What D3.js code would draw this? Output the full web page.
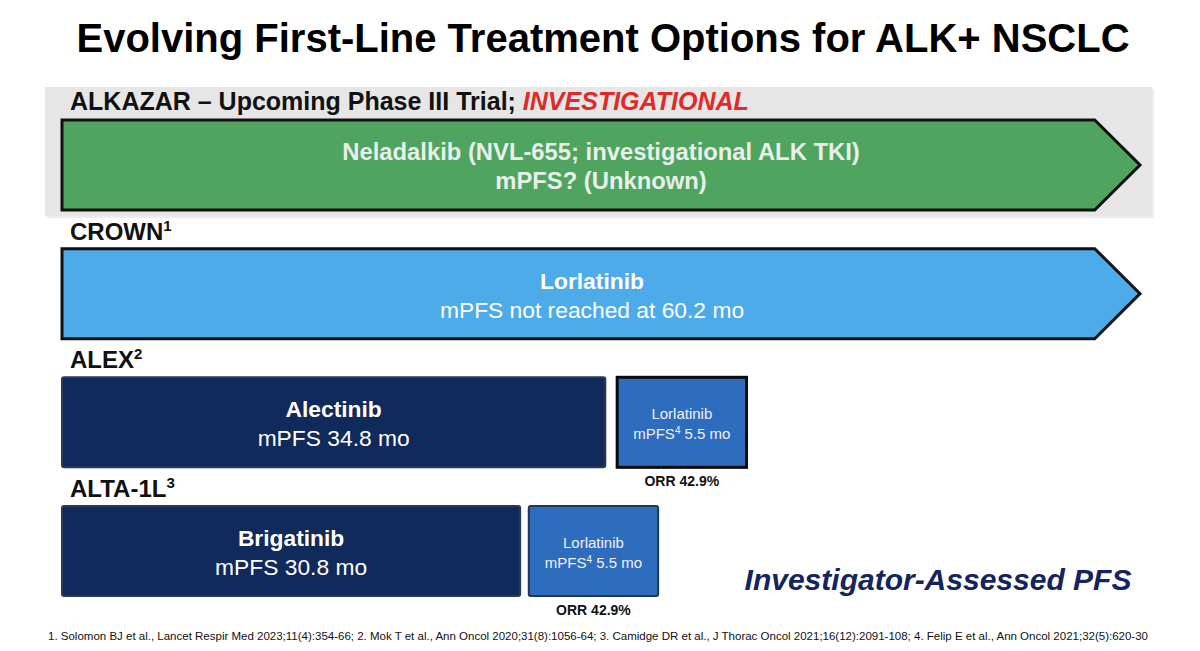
<!DOCTYPE html>
<html><head><meta charset="utf-8">
<script src="https://cdn.jsdelivr.net/npm/d3@7"></script>
<style>
html,body{margin:0;padding:0;background:#fff;}
svg{display:block;font-family:Arial,"Liberation Sans",Helvetica,sans-serif;}
</style></head>
<body>
<svg id="c" width="1200" height="651"></svg>
<script>
// ---- data (schematic timeline units 0-100) ----
const trials = ["ALKAZAR", "CROWN", "ALEX", "ALTA-1L"];
const trialSup = ["", "1", "2", "3"];
const firstDrug = ["Neladalkib (NVL-655; investigational ALK TKI)", "Lorlatinib", "Alectinib", "Brigatinib"];
const firstPFS = ["mPFS? (Unknown)", "mPFS not reached at 60.2 mo", "mPFS 34.8 mo", "mPFS 30.8 mo"];
const firstEnd = [100, 100, 50.4, 42.5];      // arrow tip / bar end
const isArrow = [true, true, false, false];
const secondStart = [null, null, 51.5, 43.3];
const secondEnd = [null, null, 63.5, 55.3];
const secondDrug = "Lorlatinib";
const secondPFS = "5.5 mo";
const secondORR = "ORR 42.9%";
const footnote = "1. Solomon BJ et al., Lancet Respir Med 2023;11(4):354-66; 2. Mok T et al., Ann Oncol 2020;31(8):1056-64; 3. Camidge DR et al., J Thorac Oncol 2021;16(12):2091-108; 4. Felip E et al., Ann Oncol 2021;32(5):620-30";

const svg = d3.select("#c");
const x = d3.scaleLinear().domain([0, 100]).range([62, 1140]);
const y = d3.scaleBand().domain(trials).range([120, 596]).paddingInner(0.3).paddingOuter(0);
const bw = y.bandwidth();
const arrowBodyEnd = 95.8;

const fill1 = {"ALKAZAR": "#4fa460", "CROWN": "#4eabe9", "ALEX": "#0f2a5b", "ALTA-1L": "#0f2a5b"};
const text1 = {"ALKAZAR": "#e9efe9", "CROWN": "#ffffff", "ALEX": "#ffffff", "ALTA-1L": "#ffffff"};

// title
svg.append("text").attr("x", 603).attr("y", 52).attr("text-anchor", "middle")
  .attr("font-size", 40).attr("font-weight", "bold").attr("fill", "#000")
  .text("Evolving First-Line Treatment Options for ALK+ NSCLC");

// gray band for ALKAZAR
svg.append("rect").attr("x", 47).attr("y", 89).attr("width", 1107).attr("height", 129)
  .attr("fill", "#ededed");
svg.append("rect").attr("x", 45).attr("y", 87).attr("width", 1107).attr("height", 129)
  .attr("fill", "#e6e6e6");

// trial labels
trials.forEach((t, i) => {
  const top = y(t);
  const tx = svg.append("text").attr("x", 70).attr("y", i === 0 ? top - 10 : top - 9)
    .attr("font-weight", "bold").attr("fill", "#111").attr("font-size", i === 0 ? 25 : 24);
  if (i === 0) {
    tx.append("tspan").text("ALKAZAR \u2013 Upcoming Phase III Trial; ");
    tx.append("tspan").attr("fill", "#e02a2a").attr("font-style", "italic").text("INVESTIGATIONAL");
  } else {
    tx.append("tspan").text(t);
    tx.append("tspan").attr("font-size", 15).attr("dy", -9).text(trialSup[i]);
  }
});

// first-line marks
trials.forEach((t, i) => {
  const top = y(t), bot = top + bw, mid = top + bw / 2;
  if (isArrow[i]) {
    const p = d3.path();
    p.moveTo(x(0), top);
    p.lineTo(x(arrowBodyEnd), top);
    p.lineTo(x(firstEnd[i]), mid);
    p.lineTo(x(arrowBodyEnd), bot);
    p.lineTo(x(0), bot);
    p.closePath();
    svg.append("path").attr("d", p.toString()).attr("fill", fill1[t])
      .attr("stroke", "#111").attr("stroke-width", 3).attr("stroke-linejoin", "miter");
  } else {
    svg.append("rect").attr("x", x(0)).attr("y", top).attr("width", x(firstEnd[i]) - x(0)).attr("height", bw)
      .attr("rx", 2).attr("fill", fill1[t]).attr("stroke", "#2b3b57").attr("stroke-width", 2);
  }
  const cx = isArrow[i] ? (i === 0 ? 601 : 592) : (x(0) + x(firstEnd[i])) / 2;
  const fs = i === 0 ? 23.8 : 22.8;
  svg.append("text").attr("x", cx).attr("y", mid - 5).attr("text-anchor", "middle")
    .attr("font-size", fs).attr("font-weight", "bold").attr("fill", text1[t]).text(firstDrug[i]);
  svg.append("text").attr("x", cx).attr("y", mid + 24).attr("text-anchor", "middle")
    .attr("font-size", fs).attr("font-weight", i === 0 ? "bold" : "normal").attr("fill", text1[t]).text(firstPFS[i]);

  if (secondStart[i] !== null) {
    const sx = x(secondStart[i]), ex = x(secondEnd[i]);
    svg.append("rect").attr("x", sx).attr("y", top).attr("width", ex - sx).attr("height", bw)
      .attr("rx", i === 2 ? 0 : 2).attr("fill", "#2e6cbd")
      .attr("stroke", i === 2 ? "#0a0a0a" : "#243650").attr("stroke-width", i === 2 ? 3 : 2);
    const scx = (sx + ex) / 2;
    svg.append("text").attr("x", scx).attr("y", mid - 3).attr("text-anchor", "middle")
      .attr("font-size", 15).attr("fill", "#eef2fa").text(secondDrug);
    const t2 = svg.append("text").attr("x", scx).attr("y", mid + 17).attr("text-anchor", "middle")
      .attr("font-size", 15).attr("fill", "#eef2fa");
    t2.append("tspan").text("mPFS");
    t2.append("tspan").attr("font-size", 10).attr("dy", -5).text("4");
    t2.append("tspan").attr("dy", 5).text(" " + secondPFS);
    svg.append("text").attr("x", scx).attr("y", bot + 19).attr("text-anchor", "middle")
      .attr("font-size", 14).attr("font-weight", "bold").attr("fill", "#111").text(secondORR);
  }
});

// note
svg.append("text").attr("x", 938).attr("y", 590).attr("text-anchor", "middle")
  .attr("font-size", 30).attr("font-weight", "bold").attr("font-style", "italic")
  .attr("fill", "#14245e").text("Investigator-Assessed PFS");

// footnote
svg.append("text").attr("x", 598).attr("y", 640).attr("text-anchor", "middle")
  .attr("font-size", 11.5).attr("fill", "#111").text(footnote);
</script>
</body></html>
